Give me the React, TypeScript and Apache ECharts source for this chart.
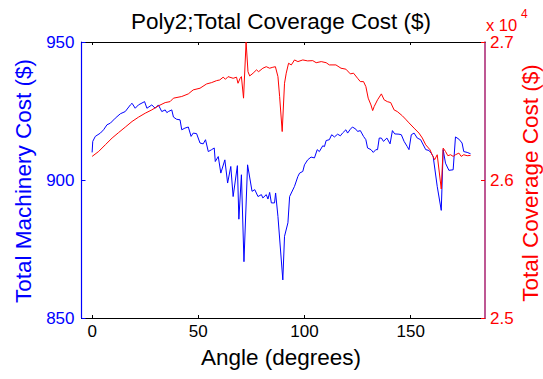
import React, { useEffect, useRef } from "react";
import * as echarts from "echarts";

const titleText = "Poly2;Total Coverage Cost ($)";
const xLabel = "Angle (degrees)";
const leftLabel = "Total Machinery Cost ($)";
const rightLabel = "Total Coverage Cost ($)";
const xTicks = [0, 50, 100, 150];

const blueAngles = [
  0, 0.3, 1.5, 3.9, 5.4, 7, 8.6, 10.9, 13.3, 15.6,
  18, 18.8, 20.3, 21.8, 24.7, 25.8, 28.1, 29.7, 31.2, 32.8,
  34.4, 35.2, 35.9, 37.5, 38.3, 39.8, 41.4, 42.2, 43.7, 45.3,
  46.6, 47.6, 49.2, 50.8, 52.3, 53.4, 54.7, 56.3, 57.5, 58,
  59.4, 60.6, 62.5, 63.8, 65.3, 66.4, 68.4, 69.1, 70.3, 71.5,
  73.2, 75.3, 76.6, 78.1, 79.7, 80.4, 82, 82.8, 83.6, 84.4,
  85.9, 86.4, 87.5, 89.8, 90.6, 92.2, 93, 95.3, 96.9, 97.7,
  99.2, 100, 101.5, 103.1, 104.7, 106, 107, 108.6, 109.4, 110.2,
  111.7, 112.8, 114.1, 115.6, 116.9, 117.9, 119.5, 120.3, 121.6, 122.6,
  124.2, 125, 126.3, 127.8, 128.9, 129.7, 131.3, 132.4, 133.6, 134.4,
  135.2, 136.2, 137.2, 138.8, 140.3, 141.4, 142.5, 144.5, 145.6, 146.9,
  148.4, 149.2, 150.3, 151.6, 153.1, 154.7, 155.5, 157.1, 158.6, 159.7,
  160.6, 162.5, 164.4, 165.3, 166.4, 168, 170, 171.1, 172.7, 174.2,
  175, 176.6, 178.2,
];
const machineryCost = [
  910, 914, 915.8, 917, 918.2, 920, 920.6, 922.4, 924, 924.8,
  927.2, 927.8, 926, 927.2, 928.4, 926, 927.2, 926, 927.2, 924.8,
  925.4, 924.4, 924.8, 925.4, 922.8, 922, 921.8, 918.2, 918.8, 919.2,
  915.8, 917, 916.8, 913.4, 913.1, 914.6, 910.3, 911, 911.6, 906.7,
  908.5, 902.5, 907.3, 898.9, 904.9, 894, 905.2, 885.8, 901.9, 870.4,
  905.5, 895.9, 896.5, 894, 894.7, 893.5, 894.7, 893.1, 895.5, 891.7,
  891.7, 895.3, 886.8, 863.8, 879.6, 884.5, 894, 897.7, 901.3, 902.5,
  903.1, 905.5, 907.3, 908.3, 908, 911, 910.3, 912.4, 912.1, 914.3,
  914.6, 916.4, 915.6, 916.6, 916, 917, 918.2, 917, 918.4, 919.2,
  918.4, 917.6, 917.9, 915.8, 914.6, 911.6, 911, 910, 911, 911,
  915.2, 915.2, 914, 915.2, 913.1, 917.9, 916.7, 916.6, 916.4, 914,
  912.1, 911, 916.4, 917, 915.2, 914.6, 913.4, 911, 910.7, 909.7,
  908.5, 897.7, 889, 911, 906.1, 903.5, 903.7, 915.6, 914.8, 913.4,
  910.3, 910, 909.5,
];

const redAngles = [
  0, 3.1, 6.2, 9.4, 12.5, 15.6, 18.8, 21.8, 25, 28.1,
  31.2, 34.4, 36.7, 38.3, 42.2, 45.3, 47.6, 50.8, 53.9, 56.3,
  58.6, 60.1, 61.7, 62.8, 64, 66.4, 68, 68.7, 69.7, 70.3,
  71.3, 72.5, 73.4, 74.2, 75.8, 77.4, 78.4, 80.4, 82, 83.6,
  85.1, 86.3, 87.5, 88.3, 89.5, 90.6, 91.4, 92.5, 93.8, 95.3,
  96.9, 99.2, 101.5, 103.9, 105.5, 107.9, 110.2, 111.7, 114.8, 117.2,
  119.5, 121.6, 123.1, 125, 126.3, 127.8, 128.9, 130, 131.3, 132.1,
  132.8, 134.4, 136.2, 137.5, 139, 140.6, 142.2, 143.7, 146.1, 147.6,
  149.2, 151.6, 153.9, 155.5, 157.1, 159.1, 160.1, 161.3, 162.5, 164.4,
  165.3, 166.4, 167.5, 168.8, 170, 171.1, 172.7, 173.8, 175, 176.6,
  178.2,
];
const coverageCost = [
  26171, 26207, 26255, 26304, 26344, 26383, 26424, 26455, 26484, 26508,
  26537, 26561, 26568, 26593, 26605, 26624, 26653, 26665, 26696, 26706,
  26720, 26725, 26745, 26730, 26749, 26737, 26745, 26701, 26737, 26749,
  26593, 27000, 26785, 26754, 26774, 26798, 26785, 26810, 26821, 26810,
  26817, 26821, 26749, 26604, 26351, 26701, 26774, 26846, 26834, 26870,
  26858, 26870, 26863, 26865, 26850, 26858, 26850, 26834, 26834, 26810,
  26803, 26769, 26774, 26737, 26713, 26713, 26677, 26593, 26544, 26503,
  26532, 26581, 26624, 26581, 26568, 26561, 26508, 26496, 26465, 26441,
  26414, 26376, 26340, 26304, 26255, 26219, 26183, 26147, 26183, 25935,
  26231, 26207, 26176, 26183, 26171, 26183, 26195, 26171, 26183, 26176,
  26178,
];

const FONT = "'Liberation Sans', Arial, Helvetica, sans-serif";
const BLUE = "#0000ff";
const RED = "#ff0000";

export default function App() {
  const ref = useRef<HTMLDivElement>(null);
  useEffect(() => {
    if (!ref.current) return;
    const chart = echarts.init(ref.current, undefined, { renderer: "svg" });
    const xCommon = {
      type: "value" as const,
      min: -5,
      max: 185,
      splitLine: { show: false },
      axisLine: { show: true, onZero: false, lineStyle: { color: "#000", width: 1 } },
      axisTick: {
        show: true,
        inside: true,
        length: 3,
        customValues: xTicks,
        lineStyle: { color: "#000" },
      },
    };
    chart.setOption({
      animation: false,
      backgroundColor: "#fff",
      grid: { left: 81.5, right: 58, top: 42, bottom: 61, containLabel: false },
      xAxis: [
        {
          ...xCommon,
          position: "bottom",
          axisLabel: {
            show: true,
            customValues: xTicks,
            color: "#000",
            fontSize: 17,
            fontFamily: FONT,
            margin: 5,
          },
        },
        {
          ...xCommon,
          position: "top",
          axisLabel: { show: false },
        },
      ],
      yAxis: [
        {
          type: "value",
          position: "left",
          min: 850,
          max: 950,
          interval: 50,
          splitLine: { show: false },
          axisLine: { show: true, onZero: false, lineStyle: { color: BLUE, width: 1.2 } },
          axisTick: { show: true, inside: true, length: 4, lineStyle: { color: BLUE } },
          axisLabel: { color: BLUE, fontSize: 17, fontFamily: FONT, margin: 7 },
        },
        {
          type: "value",
          position: "right",
          min: 25000,
          max: 27000,
          interval: 1000,
          splitLine: { show: false },
          axisLine: { show: true, onZero: false, lineStyle: { color: "#a8206f", width: 1.5 } },
          axisTick: { show: true, inside: true, length: 4, lineStyle: { color: RED } },
          axisLabel: {
            color: RED,
            fontSize: 17,
            fontFamily: FONT,
            margin: 5,
            formatter: (v: number) => (v / 10000).toFixed(1),
          },
        },
      ],
      series: [
        {
          type: "line",
          xAxisIndex: 0,
          yAxisIndex: 0,
          data: blueAngles.map((a, i) => [a, machineryCost[i]]),
          showSymbol: false,
          lineStyle: { color: BLUE, width: 1 },
          itemStyle: { color: BLUE },
        },
        {
          type: "line",
          xAxisIndex: 0,
          yAxisIndex: 1,
          data: redAngles.map((a, i) => [a, coverageCost[i]]),
          showSymbol: false,
          lineStyle: { color: RED, width: 1 },
          itemStyle: { color: RED },
        },
      ],
      graphic: [
        {
          type: "text",
          x: 281,
          y: 21,
          style: {
            text: titleText,
            fill: "#000",
            font: `22.5px ${FONT}`,
            align: "center",
            verticalAlign: "middle",
          },
        },
        {
          type: "text",
          x: 281,
          y: 357,
          style: {
            text: xLabel,
            fill: "#000",
            font: `22.5px ${FONT}`,
            align: "center",
            verticalAlign: "middle",
          },
        },
        {
          type: "text",
          x: 23,
          y: 181,
          rotation: Math.PI / 2,
          style: {
            text: leftLabel,
            fill: BLUE,
            font: `22.5px ${FONT}`,
            align: "center",
            verticalAlign: "middle",
          },
        },
        {
          type: "text",
          x: 530,
          y: 183,
          rotation: Math.PI / 2,
          style: {
            text: rightLabel,
            fill: RED,
            font: `22.5px ${FONT}`,
            align: "center",
            verticalAlign: "middle",
          },
        },
        {
          type: "text",
          x: 486,
          y: 24.5,
          style: {
            text: "x 10",
            fill: RED,
            font: `16.5px ${FONT}`,
            align: "left",
            verticalAlign: "middle",
          },
        },
        {
          type: "text",
          x: 521,
          y: 13.5,
          style: {
            text: "4",
            fill: RED,
            font: `12px ${FONT}`,
            align: "left",
            verticalAlign: "middle",
          },
        },
      ],
    });
    return () => chart.dispose();
  }, []);
  return (
    <div
      ref={ref}
      style={{ position: "fixed", left: 0, top: 0, width: 543, height: 379 }}
    />
  );
}
